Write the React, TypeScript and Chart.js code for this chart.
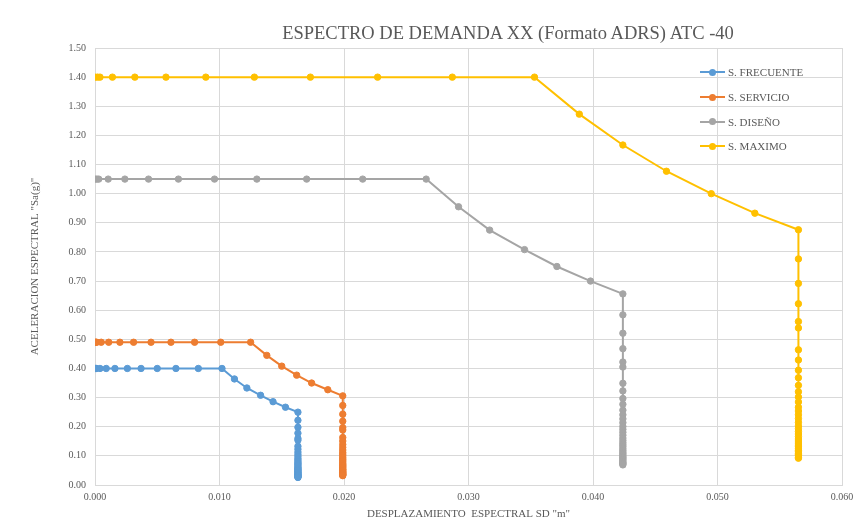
import React, { useEffect, useRef } from "react";
import { Chart, registerables } from "chart.js";

Chart.register(...registerables);

const TITLE = "ESPECTRO DE DEMANDA XX (Formato ADRS) ATC -40";
const X_TITLE = 'DESPLAZAMIENTO  ESPECTRAL SD "m"';
const Y_TITLE = 'ACELERACION ESPECTRAL "Sa(g)"';

const SERIES_NAMES = ["S. FRECUENTE", "S. SERVICIO", "S. DISEÑO", "S. MAXIMO"];
const SERIES_COLORS = ["#5B9BD5", "#ED7D31", "#A5A5A5", "#FFC000"];

// S. FRECUENTE
const frecX = [
  0, 0.00006, 0.0001, 0.0004, 0.0009, 0.0016, 0.0026, 0.0037, 0.005, 0.0065, 0.0083, 0.0102,
  0.0112, 0.0122, 0.0133, 0.0143, 0.0153, 0.0163,
  0.0163, 0.0163, 0.0163, 0.0163, 0.0163, 0.0163, 0.0163, 0.0163, 0.0163, 0.0163, 0.0163, 0.0163,
  0.0163, 0.0163, 0.0163, 0.0163, 0.0163, 0.0163, 0.0163, 0.0163, 0.0163, 0.0163, 0.0163, 0.0163,
  0.0163, 0.0163, 0.0163, 0.0163, 0.0163, 0.0163, 0.0163, 0.0163, 0.0163, 0.0163, 0.0163, 0.0163,
];
const frecY = [
  0.4, 0.4, 0.4, 0.4, 0.4, 0.4, 0.4, 0.4, 0.4, 0.4, 0.4, 0.4,
  0.364, 0.333, 0.308, 0.286, 0.267, 0.25,
  0.222, 0.198, 0.178, 0.16, 0.154, 0.133, 0.123, 0.113, 0.105, 0.098, 0.091, 0.086,
  0.081, 0.076, 0.073, 0.069, 0.065, 0.061, 0.058, 0.055, 0.053, 0.05, 0.048, 0.045,
  0.043, 0.041, 0.039, 0.037, 0.036, 0.034, 0.033, 0.031, 0.03, 0.029, 0.027, 0.026,
];

// S. SERVICIO
const servX = [
  0, 0.00007, 0.00013, 0.0005, 0.0011, 0.002, 0.0031, 0.0045, 0.0061, 0.008, 0.0101, 0.0125,
  0.0138, 0.015, 0.0162, 0.0174, 0.0187, 0.0199,
  0.0199, 0.0199, 0.0199, 0.0199, 0.0199, 0.0199, 0.0199, 0.0199, 0.0199, 0.0199, 0.0199, 0.0199,
  0.0199, 0.0199, 0.0199, 0.0199, 0.0199, 0.0199, 0.0199, 0.0199, 0.0199, 0.0199, 0.0199, 0.0199,
  0.0199, 0.0199, 0.0199, 0.0199, 0.0199, 0.0199, 0.0199, 0.0199, 0.0199, 0.0199, 0.0199, 0.0199,
];
const servY = [
  0.49, 0.49, 0.49, 0.49, 0.49, 0.49, 0.49, 0.49, 0.49, 0.49, 0.49, 0.49,
  0.445, 0.408, 0.377, 0.35, 0.327, 0.306,
  0.273, 0.243, 0.219, 0.197, 0.189, 0.163, 0.151, 0.139, 0.129, 0.12, 0.112, 0.106,
  0.1, 0.094, 0.089, 0.085, 0.08, 0.075, 0.071, 0.068, 0.065, 0.062, 0.059, 0.055,
  0.053, 0.051, 0.048, 0.046, 0.044, 0.042, 0.04, 0.038, 0.037, 0.035, 0.034, 0.032,
];

// S. DISEÑO
const disX = [
  0, 0.00015, 0.0003, 0.00106, 0.0024, 0.0043, 0.0067, 0.0096, 0.013, 0.017, 0.0215, 0.0266,
  0.0292, 0.0317, 0.0345, 0.0371, 0.0398, 0.0424,
  0.0424, 0.0424, 0.0424, 0.0424, 0.0424, 0.0424, 0.0424, 0.0424, 0.0424, 0.0424, 0.0424, 0.0424,
  0.0424, 0.0424, 0.0424, 0.0424, 0.0424, 0.0424, 0.0424, 0.0424, 0.0424, 0.0424, 0.0424, 0.0424,
  0.0424, 0.0424, 0.0424, 0.0424, 0.0424, 0.0424, 0.0424, 0.0424, 0.0424, 0.0424, 0.0424, 0.0424,
];
const disY = [
  1.05, 1.05, 1.05, 1.05, 1.05, 1.05, 1.05, 1.05, 1.05, 1.05, 1.05, 1.05,
  0.955, 0.875, 0.808, 0.75, 0.7, 0.656,
  0.584, 0.521, 0.468, 0.422, 0.405, 0.349, 0.323, 0.297, 0.277, 0.257, 0.241, 0.227,
  0.214, 0.201, 0.191, 0.181, 0.171, 0.161, 0.153, 0.145, 0.138, 0.132, 0.125, 0.119,
  0.113, 0.108, 0.103, 0.098, 0.094, 0.09, 0.086, 0.082, 0.078, 0.075, 0.072, 0.069,
];

// S. MAXIMO
const maxX = [
  0, 0.0002, 0.0004, 0.0014, 0.0032, 0.0057, 0.0089, 0.0128, 0.0173, 0.0227, 0.0287, 0.0353,
  0.0389, 0.0424, 0.0459, 0.0495, 0.053, 0.0565,
  0.0565, 0.0565, 0.0565, 0.0565, 0.0565, 0.0565, 0.0565, 0.0565, 0.0565, 0.0565, 0.0565, 0.0565,
  0.0565, 0.0565, 0.0565, 0.0565, 0.0565, 0.0565, 0.0565, 0.0565, 0.0565, 0.0565, 0.0565, 0.0565,
  0.0565, 0.0565, 0.0565, 0.0565, 0.0565, 0.0565, 0.0565, 0.0565, 0.0565, 0.0565, 0.0565, 0.0565,
];
const maxY = [
  1.4, 1.4, 1.4, 1.4, 1.4, 1.4, 1.4, 1.4, 1.4, 1.4, 1.4, 1.4,
  1.273, 1.167, 1.077, 1.0, 0.933, 0.876,
  0.776, 0.692, 0.622, 0.561, 0.539, 0.464, 0.429, 0.394, 0.368, 0.342, 0.32, 0.302,
  0.285, 0.267, 0.254, 0.241, 0.228, 0.215, 0.203, 0.193, 0.184, 0.175, 0.166, 0.158,
  0.151, 0.144, 0.137, 0.131, 0.124, 0.119, 0.114, 0.109, 0.104, 0.1, 0.095, 0.092,
];

const SERIES_X = [frecX, servX, disX, maxX];
const SERIES_Y = [frecY, servY, disY, maxY];

const FONT = "'Liberation Serif', 'Times New Roman', serif";
const TEXT_COLOR = "#595959";
const GRID_COLOR = "#d9d9d9";

export default function App() {
  const canvasRef = useRef<HTMLCanvasElement | null>(null);

  useEffect(() => {
    if (!canvasRef.current) return;
    const datasets = SERIES_NAMES.map((name, i) => ({
      label: name,
      data: SERIES_X[i].map((x, j) => ({ x, y: SERIES_Y[i][j] })),
      showLine: true,
      borderColor: SERIES_COLORS[i],
      backgroundColor: SERIES_COLORS[i],
      borderWidth: 2,
      pointRadius: 3.2,
      pointBorderWidth: 1,
      pointBorderColor: SERIES_COLORS[i],
      pointBackgroundColor: SERIES_COLORS[i],
    }));

    const chart = new Chart(canvasRef.current, {
      type: "scatter",
      data: { datasets },
      options: {
        animation: false,
        responsive: false,
        maintainAspectRatio: false,
        layout: { padding: { top: 40, right: 14, left: 0, bottom: 0 } },
        plugins: {
          legend: { display: false },
          title: { display: false },
          tooltip: { enabled: false },
        },
        scales: {
          x: {
            type: "linear",
            min: 0,
            max: 0.06,
            ticks: {
              stepSize: 0.01,
              color: TEXT_COLOR,
              font: { family: FONT, size: 10 },
              padding: 6,
              callback: (v: any) => Number(v).toFixed(3),
            },
            grid: { color: GRID_COLOR, drawTicks: false },
            border: { color: GRID_COLOR },
            title: {
              display: true,
              text: X_TITLE,
              color: TEXT_COLOR,
              font: { family: FONT, size: 11 },
              padding: { top: 0, bottom: 0 },
            },
            afterFit: (s: any) => {
              s.height = 36;
              s.paddingRight = 0;
              s.paddingLeft = 0;
            },
          },
          y: {
            min: 0,
            max: 1.5,
            ticks: {
              stepSize: 0.1,
              color: TEXT_COLOR,
              font: { family: FONT, size: 10 },
              padding: 9,
              callback: (v: any) => Number(v).toFixed(2),
            },
            grid: { color: GRID_COLOR, drawTicks: false },
            border: { color: GRID_COLOR },
            title: {
              display: true,
              text: Y_TITLE,
              color: TEXT_COLOR,
              font: { family: FONT, size: 11 },
              padding: { top: 21, bottom: 0 },
            },
            afterFit: (s: any) => {
              s.width = 87;
            },
          },
        },
      },
    });
    return () => chart.destroy();
  }, []);

  return (
    <div style={{ position: "relative", width: 848, height: 513 }}>
      <canvas ref={canvasRef} width={848} height={513} style={{ display: "block" }} />
      <div
        style={{
          position: "absolute",
          left: 500,
          top: 16,
          transform: "translateX(-50%)",
          whiteSpace: "nowrap",
          fontFamily: FONT,
          fontSize: 18.5,
          lineHeight: "18px",
          color: TEXT_COLOR,
        }}
      >
        {TITLE}
      </div>
      <div style={{ position: "absolute", left: 692, top: 52 }}>
        {SERIES_NAMES.map((name, i) => (
          <div
            key={name}
            style={{ display: "flex", alignItems: "center", height: 24.7, whiteSpace: "nowrap" }}
          >
            <span style={{ position: "relative", width: 25, height: 10, display: "inline-block" }}>
              <span
                style={{
                  position: "absolute",
                  left: 0,
                  top: 4,
                  width: 25,
                  height: 2,
                  background: SERIES_COLORS[i],
                }}
              />
              <span
                style={{
                  position: "absolute",
                  left: 9,
                  top: 1.5,
                  width: 7,
                  height: 7,
                  borderRadius: "50%",
                  background: SERIES_COLORS[i],
                }}
              />
            </span>
            <span
              style={{
                marginLeft: 3,
                fontFamily: FONT,
                fontSize: 11,
                color: TEXT_COLOR,
              }}
            >
              {name}
            </span>
          </div>
        ))}
      </div>
    </div>
  );
}
